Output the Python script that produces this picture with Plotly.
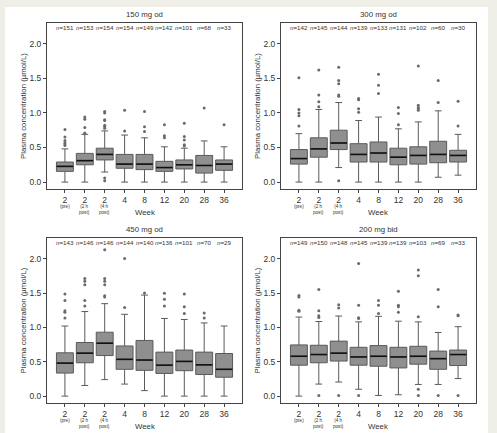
import plotly.graph_objects as go

# ---------------- data ----------------
tick_labels = ["2", "2", "2", "4", "8", "12", "20", "28", "36"]
sub_labels = ["(pre)", "(2 h<br>post)", "(4 h<br>post)", "", "", "", "", "", ""]
panel_titles = ["150 mg od", "300 mg od", "450 mg od", "200 mg bid"]
y_title = "Plasma concentration (µmol/L)"
x_title = "Week"

n_150 = [151, 153, 154, 154, 149, 142, 101, 68, 33]
n_300 = [142, 145, 144, 139, 133, 131, 102, 60, 30]
n_450 = [143, 146, 146, 144, 140, 136, 101, 70, 29]
n_200 = [149, 150, 148, 145, 139, 139, 103, 69, 33]

# 150 mg od
q1_150 = [0.155, 0.25, 0.32, 0.20, 0.18, 0.155, 0.19, 0.13, 0.17]
med_150 = [0.227, 0.31, 0.40, 0.26, 0.26, 0.21, 0.25, 0.24, 0.26]
q3_150 = [0.29, 0.415, 0.49, 0.40, 0.40, 0.30, 0.32, 0.385, 0.32]
lo_150 = [0.0, 0.0, 0.145, 0.0, 0.0, 0.0, 0.0, 0.0, 0.0]
hi_150 = [0.48, 0.69, 0.74, 0.68, 0.64, 0.51, 0.49, 0.595, 0.51]
out_150 = [
    [0.76, 0.65, 0.60, 0.57, 0.55, 0.53],
    [0.94, 0.91, 0.79, 0.71, 0.70],
    [1.02, 1.00, 0.90, 0.89, 0.82, 0.80, 0.78, 0.06, 0.02],
    [1.04, 0.74],
    [1.02, 0.80, 0.73],
    [0.83, 0.67, 0.64],
    [0.85, 0.66, 0.61, 0.54, 0.52],
    [1.07],
    [0.83],
]

# 300 mg od
q1_300 = [0.26, 0.36, 0.47, 0.29, 0.29, 0.25, 0.26, 0.28, 0.29]
med_300 = [0.34, 0.48, 0.565, 0.40, 0.42, 0.36, 0.385, 0.40, 0.385]
q3_300 = [0.47, 0.64, 0.75, 0.555, 0.58, 0.49, 0.51, 0.59, 0.46]
lo_300 = [0.0, 0.0, 0.21, 0.0, 0.0, 0.0, 0.0, 0.07, 0.10]
hi_300 = [0.70, 1.05, 1.15, 0.89, 0.94, 0.77, 0.87, 1.03, 0.69]
out_300 = [
    [1.51, 1.05, 1.00, 0.96, 0.81],
    [1.62, 1.26, 1.16, 1.09],
    [1.66, 1.47, 1.42, 1.26, 1.24, 0.02],
    [1.21, 1.19, 1.06, 1.01],
    [1.56, 1.40, 1.28],
    [1.08, 0.99, 0.83],
    [1.68, 1.11, 1.08, 1.06, 1.04],
    [1.47, 1.15],
    [1.17, 0.81],
]

# 450 mg od
q1_450 = [0.335, 0.485, 0.59, 0.39, 0.375, 0.33, 0.37, 0.315, 0.275]
med_450 = [0.48, 0.625, 0.77, 0.535, 0.525, 0.45, 0.505, 0.455, 0.39]
q3_450 = [0.63, 0.78, 0.93, 0.73, 0.81, 0.64, 0.67, 0.64, 0.62]
lo_450 = [0.0, 0.155, 0.24, 0.175, 0.08, 0.0, 0.0, 0.0, 0.0]
hi_450 = [1.02, 1.23, 1.345, 1.19, 1.47, 1.13, 1.115, 1.065, 1.02]
out_450 = [
    [1.485, 1.39, 1.24, 1.22, 1.135],
    [1.71, 1.67, 1.62, 1.39, 1.31],
    [2.13, 1.71, 1.67, 1.62, 1.46, 1.44],
    [2.00, 1.29],
    [1.50],
    [1.495, 1.41, 1.31],
    [1.485, 1.30, 1.20],
    [1.21, 1.135],
    [],
]

# 200 mg bid
q1_200 = [0.45, 0.485, 0.51, 0.45, 0.435, 0.41, 0.465, 0.39, 0.445]
med_200 = [0.58, 0.605, 0.625, 0.57, 0.58, 0.57, 0.58, 0.545, 0.605]
q3_200 = [0.745, 0.74, 0.80, 0.71, 0.735, 0.71, 0.725, 0.655, 0.67]
lo_200 = [0.0, 0.175, 0.205, 0.10, 0.01, 0.02, 0.17, 0.17, 0.255]
hi_200 = [1.15, 1.085, 1.165, 1.08, 1.16, 1.09, 1.08, 0.925, 1.01]
out_200 = [
    [1.465, 1.44, 1.25, 1.235],
    [1.55, 1.24, 1.17, 1.145, 0.01],
    [1.33, 1.28, 0.01],
    [1.93, 1.32, 1.14, 1.13, 0.01],
    [1.39, 1.32, 1.20],
    [1.525, 1.32, 1.30, 1.22],
    [1.835, 1.75, 1.155, 0.10, 0.01],
    [1.55, 1.30, 0.01],
    [1.18, 1.17, 0.01],
]

panels = [
    (n_150, q1_150, med_150, q3_150, lo_150, hi_150, out_150),
    (n_300, q1_300, med_300, q3_300, lo_300, hi_300, out_300),
    (n_450, q1_450, med_450, q3_450, lo_450, hi_450, out_450),
    (n_200, q1_200, med_200, q3_200, lo_200, hi_200, out_200),
]

# ---------------- layout geometry ----------------
W, H = 497, 433
FONT = "Liberation Sans, Arial, sans-serif"
TXT = "#333333"
BOX_FILL = "#8f8f8f"
BOX_LINE = "#5a5a5a"

# panel frames in pixels (left, right, top, bottom)
frames = [(47, 242, 23, 189), (281, 476, 23, 189), (47, 242, 238, 403), (281, 476, 238, 403)]


def px_x(p):
    return p / W


def px_y(p):
    return 1 - p / H


fig = go.Figure()
annotations = []
xs = list(range(len(tick_labels)))

for i, (frame, data, title) in enumerate(zip(frames, panels, panel_titles)):
    nvals, q1, med, q3, lo, hi, outs = data
    ax = "" if i == 0 else str(i + 1)
    xref, yref = "x" + ax, "y" + ax
    fig.add_trace(go.Box(
        x=xs, q1=q1, median=med, q3=q3, lowerfence=lo, upperfence=hi,
        xaxis=xref, yaxis=yref, fillcolor=BOX_FILL,
        line=dict(color=BOX_LINE, width=1), whiskerwidth=0.4,
        boxpoints=False, showlegend=False, hoverinfo="skip",
    ))
    # medians in black
    fig.add_trace(go.Scatter(
        x=xs, y=med, mode="markers", xaxis=xref, yaxis=yref,
        marker=dict(symbol="line-ew", size=11.8, line=dict(color="#111111", width=1.6)),
        showlegend=False, hoverinfo="skip",
    ))
    ox, oy = [], []
    for k, vals in enumerate(outs):
        ox += [k] * len(vals)
        oy += vals
    fig.add_trace(go.Scatter(
        x=ox, y=oy, mode="markers", xaxis=xref, yaxis=yref,
        marker=dict(size=3, color="#6a6a6a"),
        showlegend=False, hoverinfo="skip",
    ))

    l, r, t, b = frame
    axis_common = dict(showline=True, mirror=True, linecolor="#444444", linewidth=1,
                       showgrid=False, zeroline=False, ticks="outside", ticklen=3,
                       tickcolor="#444444", tickfont=dict(family=FONT, size=8.5, color=TXT))
    fig.layout["xaxis" + ax] = dict(
        domain=[px_x(l), px_x(r)], range=[-0.9, 8.9], tickvals=xs, ticktext=tick_labels,
        anchor=yref, **axis_common)
    fig.layout["yaxis" + ax] = dict(
        domain=[px_y(b), px_y(t)], range=[-0.1, 2.3], tickvals=[0, 0.5, 1.0, 1.5, 2.0],
        tickformat=".1f", anchor=xref, **axis_common)

    # y title
    annotations.append(dict(text=y_title, x=px_x(l - 24), y=(px_y(t) + px_y(b)) / 2,
                            xref="paper", yref="paper", xanchor="center", yanchor="middle",
                            textangle=-90, showarrow=False,
                            font=dict(family=FONT, size=7.8, color=TXT)))
    # panel title
    annotations.append(dict(text=title, x=(px_x(l) + px_x(r)) / 2, y=px_y(t - 8),
                            xref="paper", yref="paper", xanchor="center", yanchor="middle",
                            showarrow=False, font=dict(family=FONT, size=7.8, color=TXT)))
    # n labels
    for k, nv in enumerate(nvals):
        annotations.append(dict(text=f"<i>n</i>={nv}", x=k, y=px_y(t + 4.5),
                                xref=xref, yref="paper", xanchor="center", yanchor="middle",
                                showarrow=False, font=dict(family=FONT, size=6.2, color=TXT)))
    # sub labels under ticks
    for k, sl in enumerate(sub_labels):
        if sl:
            annotations.append(dict(text=sl, x=k, y=px_y(b + 14), xref=xref, yref="paper",
                                    xanchor="center", yanchor="top", showarrow=False,
                                    borderpad=0,
                                    font=dict(family=FONT, size=4.6, color=TXT)))
    # x title
    annotations.append(dict(text=x_title, x=(px_x(l) + px_x(r)) / 2, y=px_y(b + 23),
                            xref="paper", yref="paper", xanchor="center", yanchor="middle",
                            showarrow=False, font=dict(family=FONT, size=7.8, color=TXT)))

fig.update_layout(
    width=W, height=H, margin=dict(l=0, r=0, t=0, b=0),
    paper_bgcolor="#efefe7", plot_bgcolor="rgba(0,0,0,0)",
    boxgap=0.15, boxgroupgap=0, annotations=annotations,
    shapes=[dict(type="rect", xref="paper", yref="paper", x0=px_x(5), x1=px_x(488),
                 y0=0, y1=px_y(7), fillcolor="white", line=dict(width=0), layer="below")],
)

fig.write_html("out.html")
